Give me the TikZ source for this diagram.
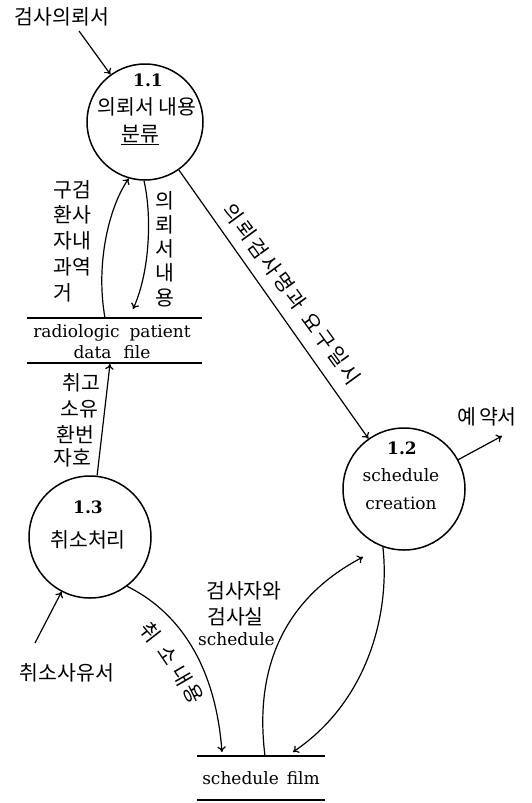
\documentclass[tikz,border=0pt]{standalone}
\usepackage{fontspec}
\setmainfont{DejaVu Serif}
\newfontfamily\kr{Noto Sans CJK KR}
\usetikzlibrary{arrows.meta}
\newcommand\kgap{\hspace{2.5pt}}
\begin{document}
\begin{tikzpicture}[x=1pt,y=-1pt,
  proc/.style={circle, draw, line width=1.5pt, minimum size=#1, inner sep=0pt},
  flow/.style={line width=1.2pt, -{To[length=5.5pt,width=8.5pt]}},
  krt/.style={font=\kr\fontsize{20.5}{25}\selectfont, inner sep=0pt},
  krv/.style={font=\kr\fontsize{20.5}{#1}\selectfont, inner sep=0pt, align=center},
  lat/.style={font=\fontsize{17}{21}\selectfont, inner sep=0pt},
  num/.style={font=\bfseries\fontsize{17}{21}\selectfont, inner sep=0pt},
  storeline/.style={line width=1.3pt}]
\useasboundingbox (0,0) rectangle (531,803);

% processes
\node[proc=116pt] (c11) at (145,122) {};
\node[proc=122pt] (c12) at (404,489) {};
\node[proc=122pt] (c13) at (90,537) {};

\node[num] (n11) at (148,80) {1.1};
\node[krt] (t11a) at (147,107) {의뢰서 내용};
\node[krt] (t11b) at (140,135) {\underline{분류}};

\node[num] (n12) at (402,448) {1.2};
\node[lat] (t12a) at (401,475) {schedule};
\node[lat] (t12b) at (401,503) {creation};

\node[num] (n13) at (88,507) {1.3};
\node[krt] (t13) at (88,540) {취소처리};

% data stores
\coordinate (dfTL) at (27,318); \coordinate (dfTR) at (202,318);
\coordinate (dfBL) at (27,363); \coordinate (dfBR) at (202,363);
\draw[storeline] (dfTL) -- (dfTR);
\draw[storeline] (dfBL) -- (dfBR);
\node[lat, align=center] (df) at (112,342) {radiologic\hspace{10pt}patient\\data\hspace{12pt}file};

\coordinate (sfTL) at (197,756); \coordinate (sfTR) at (325,756);
\coordinate (sfBL) at (197,800); \coordinate (sfBR) at (325,800);
\draw[storeline] (sfTL) -- (sfTR);
\draw[storeline] (sfBL) -- (sfBR);
\node[lat] (sf) at (261,778) {schedule\hspace{8pt}film};

% external texts
\node[krt] (req) at (62,17) {검사의뢰서};
\node[krt] (cancel) at (67,673) {취소사유서};
\node[krt] (resv) at (487,417) {예\hspace{3pt}약서};

% flow labels
\node[krv=25.75, align=left, anchor=west] (lab1) at (53,241) {구검\\환사\\자내\\과역\\거};
\node[krv=24.25] (lab2) at (165,249) {의\\뢰\\서\\내\\용};
\node[krt] (lab3a) at (81,383) {취고};
\node[krt] (lab3b) at (79,409) {소유};
\node[krt] (lab3c) at (75,435) {환번};
\node[krt] (lab3d) at (72,458) {자호};
\node[krt, anchor=west] (lab4a) at (206,591) {검사자와};
\node[krt, anchor=west] (lab4b) at (207,617) {검사실};
\node[lat, anchor=west] (lab4c) at (198,639) {schedule};
\node[krt, rotate=-54] (lab5) at (292,294)
  {의\kgap 뢰\kgap 검\kgap 사\kgap 명\kgap 과\hspace{9pt}요\kgap 구\kgap 일\kgap 시};
\node[krt, rotate=-52] (lab6a) at (150,632) {취};
\node[krt, rotate=-56] (lab6b) at (168,655) {소};
\node[krt, rotate=-60] (lab6c) at (182,676) {내};
\node[krt, rotate=-64] (lab6d) at (193,694) {용};

% connector end points
\coordinate (reqEnd) at (79,31);
\coordinate (resvTip) at (502,436);
\coordinate (cancelStart) at (35,643);
\coordinate (dfT1) at (105,318);
\coordinate (dfT2) at (133,309);
\coordinate (dfB) at (110,364);
\coordinate (sfT1) at (222,752);
\coordinate (sfT2) at (265,756);
\coordinate (sfT3) at (293,752);
\coordinate (c12tip) at (363,557);

% connectors
\draw[flow] (reqEnd) -- (c11);
\draw[flow] (c11) -- (c12);
\draw[flow] (c12) -- (resvTip);
\draw[flow] (c13) -- (dfB);
\draw[flow] (cancelStart) -- (c13);
\draw[flow] (dfT1) .. controls (95,262) and (110,205) .. (c11.-106);
\draw[flow] (c11.-91) .. controls (152,215) and (150,272) .. (dfT2);
\draw[flow] (c13.-53) .. controls (175,610) and (215,660) .. (sfT1);
\draw[flow] (sfT2) .. controls (258,700) and (262,610) .. (c12tip);
\draw[flow] (c12.-110) .. controls (390,610) and (370,700) .. (sfT3);
\end{tikzpicture}
\end{document}
